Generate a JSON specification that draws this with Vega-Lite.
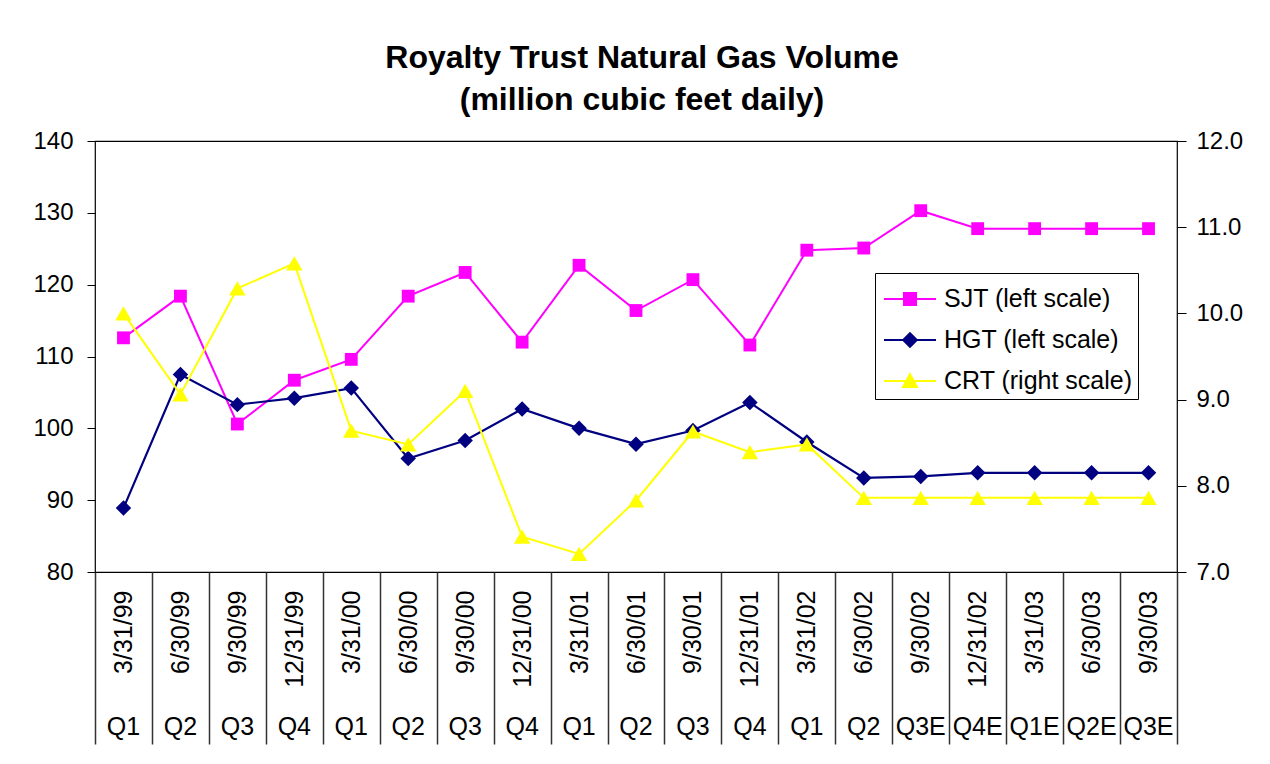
{
  "$schema": "https://vega.github.io/schema/vega-lite/v6.json",
  "width": 1082,
  "height": 431,
  "autosize": {"type": "none"},
  "padding": {"left": 95, "top": 141, "right": 93, "bottom": 192},
  "background": "white",
  "title": {
    "text": ["Royalty Trust Natural Gas Volume", "(million cubic feet daily)"],
    "font": "Liberation Sans",
    "fontSize": 32,
    "fontWeight": "bold",
    "color": "black",
    "anchor": "middle",
    "frame": "group",
    "lineHeight": 42,
    "offset": 12,
    "dx": 6
  },
  "config": {
    "view": {"fill": "#C0C0C0", "stroke": "black", "strokeWidth": 1.2},
    "font": "Liberation Sans",
    "axis": {
      "labelFont": "Liberation Sans",
      "labelFontSize": 24,
      "labelColor": "black",
      "tickColor": "black",
      "domainColor": "black",
      "grid": false,
      "title": null
    },
    "legend": {
      "orient": "none",
      "legendX": 780,
      "legendY": 132,
      "fillColor": "white",
      "strokeColor": "black",
      "strokeWidth": 1,
      "padding": 5,
      "labelFont": "Liberation Sans",
      "labelFontSize": 25,
      "labelColor": "black",
      "labelLimit": 0,
      "symbolSize": 1600,
      "symbolStrokeWidth": 2,
      "rowPadding": 7,
      "labelOffset": 22,
      "title": null
    }
  },
  "datasets": {
    "volumes": [
      {"date": "3/31/99", "quarter": "Q1", "SJT": 112.6, "HGT": 88.9, "CRT": 10.0},
      {"date": "6/30/99", "quarter": "Q2", "SJT": 118.4, "HGT": 107.5, "CRT": 9.06},
      {"date": "9/30/99", "quarter": "Q3", "SJT": 100.6, "HGT": 103.3, "CRT": 10.29},
      {"date": "12/31/99", "quarter": "Q4", "SJT": 106.7, "HGT": 104.2, "CRT": 10.58},
      {"date": "3/31/00", "quarter": "Q1", "SJT": 109.6, "HGT": 105.6, "CRT": 8.64},
      {"date": "6/30/00", "quarter": "Q2", "SJT": 118.4, "HGT": 95.8, "CRT": 8.48},
      {"date": "9/30/00", "quarter": "Q3", "SJT": 121.7, "HGT": 98.3, "CRT": 9.1},
      {"date": "12/31/00", "quarter": "Q4", "SJT": 112.0, "HGT": 102.7, "CRT": 7.41},
      {"date": "3/31/01", "quarter": "Q1", "SJT": 122.7, "HGT": 100.0, "CRT": 7.21},
      {"date": "6/30/01", "quarter": "Q2", "SJT": 116.4, "HGT": 97.8, "CRT": 7.83},
      {"date": "9/30/01", "quarter": "Q3", "SJT": 120.7, "HGT": 99.7, "CRT": 8.63},
      {"date": "12/31/01", "quarter": "Q4", "SJT": 111.6, "HGT": 103.6, "CRT": 8.39},
      {"date": "3/31/02", "quarter": "Q1", "SJT": 124.8, "HGT": 98.1, "CRT": 8.48},
      {"date": "6/30/02", "quarter": "Q2", "SJT": 125.1, "HGT": 93.1, "CRT": 7.86},
      {"date": "9/30/02", "quarter": "Q3E", "SJT": 130.3, "HGT": 93.3, "CRT": 7.86},
      {"date": "12/31/02", "quarter": "Q4E", "SJT": 127.8, "HGT": 93.8, "CRT": 7.86},
      {"date": "3/31/03", "quarter": "Q1E", "SJT": 127.8, "HGT": 93.8, "CRT": 7.86},
      {"date": "6/30/03", "quarter": "Q2E", "SJT": 127.8, "HGT": 93.8, "CRT": 7.86},
      {"date": "9/30/03", "quarter": "Q3E", "SJT": 127.8, "HGT": 93.8, "CRT": 7.86}
    ],
    "legendEntries": [
      {"series": "SJT (left scale)"},
      {"series": "HGT (left scale)"},
      {"series": "CRT (right scale)"}
    ]
  },
  "data": {"name": "volumes"},
  "layer": [
    {
      "encoding": {
        "x": {
          "field": "date",
          "type": "ordinal",
          "sort": null,
          "bandPosition": 0.5,
          "scale": {
            "type": "band",
            "domain": ["3/31/99", "6/30/99", "9/30/99", "12/31/99", "3/31/00", "6/30/00", "9/30/00", "12/31/00", "3/31/01", "6/30/01", "9/30/01", "12/31/01", "3/31/02", "6/30/02", "9/30/02", "12/31/02", "3/31/03", "6/30/03", "9/30/03"],
            "paddingInner": 0,
            "paddingOuter": 0
          },
          "axis": {
            "orient": "bottom",
            "title": null,
            "labelAngle": -90,
            "labelFontSize": 25,
            "tickBand": "extent",
            "tickSize": 172,
            "tickColor": "#333333",
            "tickWidth": 1.5,
            "labelPadding": -154,
            "domain": false,
            "labelOverlap": false,
            "labelBound": false
          }
        }
      },
      "layer": [
        {
          "mark": {"type": "line", "color": "#FF00FF", "strokeWidth": 2},
          "encoding": {
            "y": {"field": "SJT", "type": "quantitative", "scale": {"domain": [80, 140], "nice": false, "zero": false},
              "axis": {"orient": "left", "title": null, "values": [80, 90, 100, 110, 120, 130, 140], "tickSize": 8, "labelPadding": 14, "domain": false}}
          }
        },
        {
          "mark": {"type": "point", "shape": "square", "filled": true, "color": "#FF00FF", "size": 165, "opacity": 1},
          "encoding": {
            "y": {"field": "SJT", "type": "quantitative", "scale": {"domain": [80, 140], "nice": false, "zero": false},
              "axis": {"orient": "left", "title": null, "values": [80, 90, 100, 110, 120, 130, 140], "tickSize": 8, "labelPadding": 14, "domain": false}}
          }
        },
        {
          "mark": {"type": "line", "color": "#000080", "strokeWidth": 2.2},
          "encoding": {
            "y": {"field": "HGT", "type": "quantitative", "scale": {"domain": [80, 140], "nice": false, "zero": false},
              "axis": {"orient": "left", "title": null, "values": [80, 90, 100, 110, 120, 130, 140], "tickSize": 8, "labelPadding": 14, "domain": false}}
          }
        },
        {
          "mark": {"type": "point", "shape": "diamond", "filled": true, "color": "#000080", "size": 240, "opacity": 1},
          "encoding": {
            "y": {"field": "HGT", "type": "quantitative", "scale": {"domain": [80, 140], "nice": false, "zero": false},
              "axis": {"orient": "left", "title": null, "values": [80, 90, 100, 110, 120, 130, 140], "tickSize": 8, "labelPadding": 14, "domain": false}}
          }
        }
      ]
    },
    {
      "encoding": {
        "x": {
          "field": "date",
          "type": "ordinal",
          "sort": null,
          "bandPosition": 0.5,
          "scale": {
            "type": "band",
            "domain": ["3/31/99", "6/30/99", "9/30/99", "12/31/99", "3/31/00", "6/30/00", "9/30/00", "12/31/00", "3/31/01", "6/30/01", "9/30/01", "12/31/01", "3/31/02", "6/30/02", "9/30/02", "12/31/02", "3/31/03", "6/30/03", "9/30/03"],
            "paddingInner": 0,
            "paddingOuter": 0
          },
          "axis": {
            "orient": "bottom",
            "title": null,
            "labelAngle": 0,
            "labelFontSize": 25,
            "ticks": false,
            "domain": false,
            "labelPadding": 142,
            "labelOverlap": false,
            "labelBound": false,
            "labelExpr": "({'3/31/99':'Q1','6/30/99':'Q2','9/30/99':'Q3','12/31/99':'Q4','3/31/00':'Q1','6/30/00':'Q2','9/30/00':'Q3','12/31/00':'Q4','3/31/01':'Q1','6/30/01':'Q2','9/30/01':'Q3','12/31/01':'Q4','3/31/02':'Q1','6/30/02':'Q2','9/30/02':'Q3E','12/31/02':'Q4E','3/31/03':'Q1E','6/30/03':'Q2E','9/30/03':'Q3E'})[datum.value]"
          }
        },
        "y": {
          "field": "CRT",
          "type": "quantitative",
          "scale": {"domain": [7, 12], "nice": false, "zero": false},
          "axis": {"orient": "right", "title": null, "values": [7, 8, 9, 10, 11, 12], "format": ".1f", "tickSize": 9, "labelPadding": 10, "domain": false}
        }
      },
      "layer": [
        {"mark": {"type": "line", "color": "#FFFF00", "strokeWidth": 2}},
        {"mark": {"type": "point", "shape": "triangle-up", "filled": true, "color": "#FFFF00", "size": 270, "opacity": 1}}
      ]
    },
    {
      "data": {"name": "legendEntries"},
      "transform": [{"filter": "false"}],
      "mark": {"type": "point", "filled": true, "strokeWidth": 2, "opacity": 1},
      "encoding": {
        "color": {
          "field": "series",
          "type": "nominal",
          "title": null,
          "scale": {"domain": ["SJT (left scale)", "HGT (left scale)", "CRT (right scale)"], "range": ["#FF00FF", "#000080", "#FFFF00"]}
        },
        "stroke": {
          "field": "series",
          "type": "nominal",
          "title": null,
          "scale": {"domain": ["SJT (left scale)", "HGT (left scale)", "CRT (right scale)"], "range": ["#FF00FF", "#000080", "#FFFF00"]}
        },
        "shape": {
          "field": "series",
          "type": "nominal",
          "title": null,
          "scale": {
            "domain": ["SJT (left scale)", "HGT (left scale)", "CRT (right scale)"],
            "range": [
              "M-0.85,0H1.75M0.15,-0.3H0.75V0.3H0.15Z",
              "M-0.85,0H1.75M0.45,-0.34L0.79,0L0.45,0.34L0.11,0Z",
              "M-0.85,0H1.75M0.45,-0.34L0.8,0.3H0.1Z"
            ]
          }
        }
      }
    }
  ],
  "resolve": {
    "scale": {"y": "independent"},
    "axis": {"x": "independent", "y": "independent"}
  }
}
